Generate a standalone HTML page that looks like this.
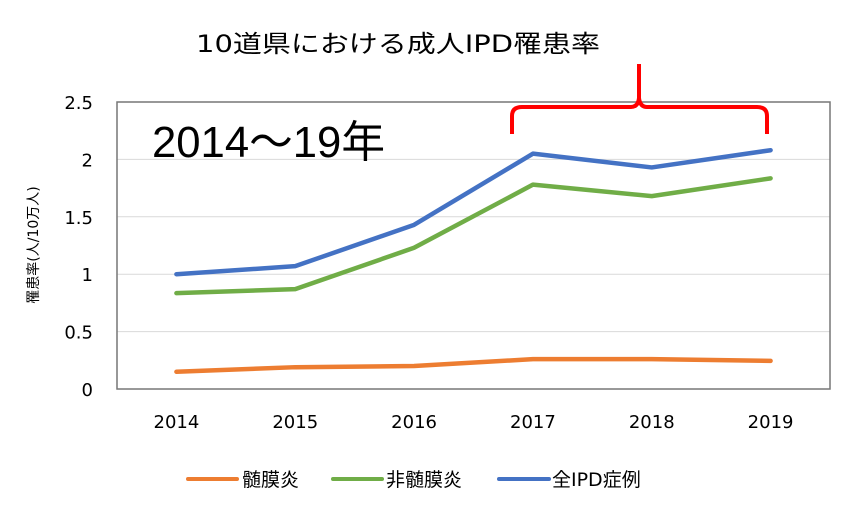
<!DOCTYPE html>
<html><head><meta charset="utf-8"><style>
body{margin:0;background:#fff;}
svg text{font-family:"DejaVu Sans","Noto Sans CJK JP",sans-serif;}
</style></head><body>
<svg width="850" height="510" xmlns="http://www.w3.org/2000/svg">
<rect width="850" height="510" fill="#fff"/>
<text x="398" y="52" font-size="24" text-anchor="middle" fill="#000" textLength="404" lengthAdjust="spacingAndGlyphs">10道県における成人IPD罹患率</text>
<g id="grid"></g>
<rect x="117" y="102" width="713" height="287" fill="none" stroke="#777" stroke-width="1.5"/>
<text x="152" y="157" font-size="44" fill="#000" textLength="233" lengthAdjust="spacingAndGlyphs" style="font-family:'Liberation Sans Narrow','Liberation Sans','Noto Sans CJK JP',sans-serif">2014～19年</text>
<g id="yt"></g>
<g id="xt"></g>
<text transform="translate(38,245) rotate(-90)" font-size="14" text-anchor="middle" fill="#000">罹患率(人/10万人)</text>
<g id="series"></g>
<path d="M512,134 V116 Q512,107 522,107 H631 Q638,107 639,98 V64 M639,98 Q640,107 647,107 H757 Q767,107 767,116 V134" fill="none" stroke="#f00" stroke-width="4"/>
<g>
<line x1="188" y1="479" x2="237" y2="479" stroke="#ED7D31" stroke-width="4" stroke-linecap="round"/>
<text x="242" y="486" font-size="19" fill="#000">髄膜炎</text>
<line x1="333" y1="479" x2="382" y2="479" stroke="#70AD47" stroke-width="4" stroke-linecap="round"/>
<text x="386" y="486" font-size="19" fill="#000">非髄膜炎</text>
<line x1="499" y1="479" x2="549" y2="479" stroke="#4472C4" stroke-width="4" stroke-linecap="round"/>
<text x="552" y="486" font-size="19" fill="#000">全IPD症例</text>
</g>
</svg>
<script>
const categories=["2014","2015","2016","2017","2018","2019"];
const meningitis=[0.15,0.19,0.20,0.26,0.26,0.245];
const nonMeningitis=[0.835,0.87,1.23,1.78,1.68,1.835];
const allIPD=[1.0,1.07,1.43,2.05,1.93,2.08];
const yTicks=[0,0.5,1,1.5,2,2.5];
const yTickLabels=["0","0.5","1","1.5","2","2.5"];
const NS="http://www.w3.org/2000/svg";
const L=117,R=830,T=102,B=389,yMax=2.5;
const x=i=>L+(R-L)/categories.length*(i+0.5);
const y=v=>B-(B-T)*v/yMax;
function mk(t,a,p){const e=document.createElementNS(NS,t);for(const k in a)e.setAttribute(k,a[k]);p.appendChild(e);return e;}
const g=document.getElementById('grid'),yt=document.getElementById('yt'),xt=document.getElementById('xt'),s=document.getElementById('series');
yTicks.forEach((v,i)=>{
 if(v>0&&v<yMax){const l=mk('line',{x1:L,x2:R,y1:y(v),y2:y(v),stroke:'#d9d9d9','stroke-width':1},g);
 
 }
 const t=mk('text',{x:93,y:y(v)+7,'font-size':18,'text-anchor':'end',fill:'#000'},yt);t.textContent=yTickLabels[i];
 
 
});
categories.forEach((c,i)=>{const t=mk('text',{x:x(i),y:428,'font-size':18,'text-anchor':'middle',fill:'#000'},xt);t.textContent=c;
 
 });
[[meningitis,'#ED7D31','line-meningitis'],[nonMeningitis,'#70AD47','line-non-meningitis'],[allIPD,'#4472C4','line-all-ipd']].forEach(([d,c,n])=>{
 const p=mk('polyline',{points:d.map((v,i)=>x(i)+','+y(v)).join(' '),fill:'none',stroke:c,'stroke-width':4.5,'stroke-linejoin':'round','stroke-linecap':'round'},s);
 
 
});
</script>
</body></html>
